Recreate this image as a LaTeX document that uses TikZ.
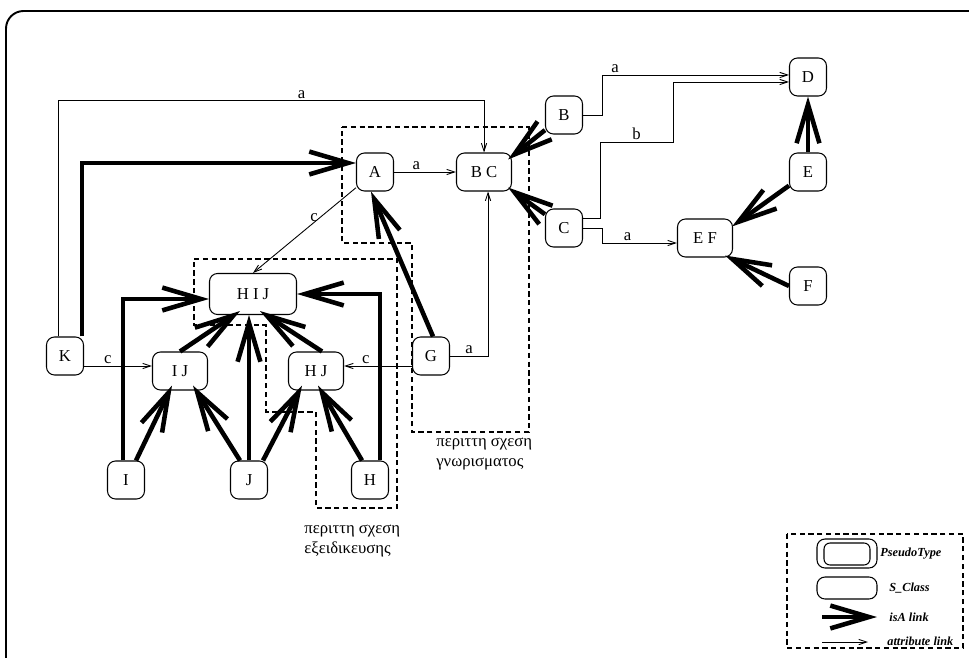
\documentclass[tikz,border=0pt]{standalone}
\usepackage{fontspec}
\setmainfont{Liberation Serif}
\usetikzlibrary{arrows.meta,calc}
\newcommand{\nodefont}{\fontsize{9.5}{11}\selectfont}
\newcommand{\legfont}{\fontsize{7}{8}\selectfont\bfseries\itshape}

\begin{document}
\begin{tikzpicture}[x=0.02cm,y=-0.02cm,
  cls/.style={draw,rounded corners=0.16cm,line width=0.6pt,minimum width=0.74cm,minimum height=0.76cm,inner sep=0pt,font=\nodefont},
  wide/.style={cls,minimum width=1.1cm},
  isa/.style={line width=2.6pt,-{Straight Barb[length=22pt,width=13pt]}},
  attr/.style={line width=0.5pt,-{Straight Barb[length=4.5pt,width=3pt]}},
  lbl/.style={font=\nodefont,inner sep=1pt},
  redund/.style={dash pattern=on 3pt off 2pt,line width=0.6pt},
  note/.style={font=\nodefont,align=left,anchor=west,inner sep=0pt},
  legtext/.style={font=\legfont,anchor=west,inner sep=0pt}]
\useasboundingbox (0,0) rectangle (969,658);
\draw[line width=1.1pt,rounded corners=10] (6,662) |- (975,11);

\draw[redund] (342,127) -- (529,127) -- (529,432) -- (412,432) -- (412,243) -- (342,243) -- cycle;
\draw[redund] (194,259) -- (397,259) -- (397,508) -- (316,508) -- (316,412) -- (266,412) -- (266,325) -- (194,325) -- cycle;

\node[cls] (A) at (375,172) {A};
\node[wide] (BC) at (484,172) {B C};
\node[cls] (B) at (564,115) {B};
\node[cls] (C) at (564,228) {C};
\node[cls] (D) at (808,77) {D};
\node[cls] (E) at (808,172) {E};
\node[wide] (EF) at (705,238) {E F};
\node[cls] (F) at (808,286) {F};
\node[cls] (K) at (65,356) {K};
\node[cls] (G) at (431,356) {G};
\node[wide] (IJ) at (180,371) {I J};
\node[wide] (HJ) at (316,371) {H J};
\node[cls,minimum width=1.74cm,minimum height=0.82cm] (HIJ) at (253,294) {H I J};
\node[cls] (I) at (126,480) {I};
\node[cls] (J) at (249,480) {J};
\node[cls] (H) at (370,480) {H};

\node[note] (knote) at (436,454) {περιττη σχεση\\γνωρισματος};
\node[note] (snote) at (304,541) {περιττη σχεση\\εξειδικευσης};

\draw[attr] (A) -- node[lbl,above,pos=0.36]{a} (BC);
\draw[attr] (A) -- node[lbl,left,pos=0.35]{c} (HIJ.north);
\draw[attr] ($(K.east)+(0,10)$) -- node[lbl,above,pos=0.35]{c} ($(IJ.west)+(0,-5)$);
\draw[attr] ($(G.west)+(0,10)$) -- node[lbl,above,pos=0.68]{c} ($(HJ.east)+(0,-5)$);
\draw[attr] (G.east) -| node[lbl,above,pos=0.25]{a} ($(BC.south)+(4,0)$);
\draw[attr] ($(K.north)+(-7,0)$) |- node[lbl,above,pos=0.786]{a} ($(BC.north)+(0,-52)$) -- (BC.north);
\draw[attr] (B.east) -- ++(19,0) |- node[lbl,above,pos=0.535]{a} ($(D.west)+(0,-2)$);
\draw[attr] ($(C.east)+(0,-10)$) -- ++(17,0) -- ++(0,-76) -- node[lbl,above]{b} ++(73,0) |- ($(D.west)+(0,5)$);
\draw[attr] (C.east) -- ++(19,0) |- node[lbl,above,pos=0.67]{a} ($(EF.west)+(0,5)$);

\draw[isa] ($(K.north)+(17,0)$) |- ($(A.west)+(0,-9)$);
\draw[isa] ($(G.north)+(2,0)$) -- ($(A.south)+(-4,0)$);
\draw[isa] (B) -- ($(BC.north east)+(-4,7)$);
\draw[isa] (C) -- ($(BC.south east)+(-4,-4)$);
\draw[isa] (E) -- (D);
\draw[isa] (E) -- ($(EF.north east)+(-1,8)$);
\draw[isa] (F.west) -- ($(EF.south east)+(-8,-2)$);
\draw[isa] ($(I.north)+(-3,0)$) |- ($(HIJ.west)+(0,5)$);
\draw[isa] ($(I.north)+(10,0)$) -- ($(IJ.south)+(-8,-5)$);
\draw[isa] ($(J.north)+(-9,0)$) -- ($(IJ.south)+(13,-5)$);
\draw[isa] (J.north) -- (J.north |- HIJ.south);
\draw[isa] ($(J.north)+(14,0)$) -- ($(HJ.south)+(-14,-5)$);
\draw[isa] ($(H.north)+(-8,0)$) -- ($(HJ.south)+(2,-5)$);
\draw[isa] ($(H.north)+(10,0)$) |- (HIJ.east);
\draw[isa] (IJ.north) -- ($(HIJ.south)+(-13,-4)$);
\draw[isa] ($(HJ.north)+(6,0)$) -- ($(HIJ.south)+(7,-4)$);

\draw[redund] (787,534) rectangle (963,648);
\node[cls,minimum width=1.2cm,minimum height=0.58cm] (ptype) at (847,553.5) {};
\node[cls,minimum width=0.92cm,minimum height=0.44cm,rounded corners=0.12cm] (ptypein) at (847,554) {};
\node[cls,minimum width=1.2cm,minimum height=0.44cm] (sclass) at (847,588) {};
\node[legtext] (ptypelbl) at (880,554) {PseudoType};
\node[legtext] (sclasslbl) at (889,588) {S\_Class};
\coordinate (isastart) at (822,617);
\node[legtext] (isalbl) at (889,617) {isA link};
\draw[isa] (isastart) -- ($(isalbl.west)+(-12,0)$);
\coordinate (attrstart) at (822,642);
\node[legtext] (attrlbl) at (887,641) {attribute link};
\draw[attr] (attrstart) -- ($(attrlbl.west)+(-19,1)$);
\end{tikzpicture}
\end{document}
